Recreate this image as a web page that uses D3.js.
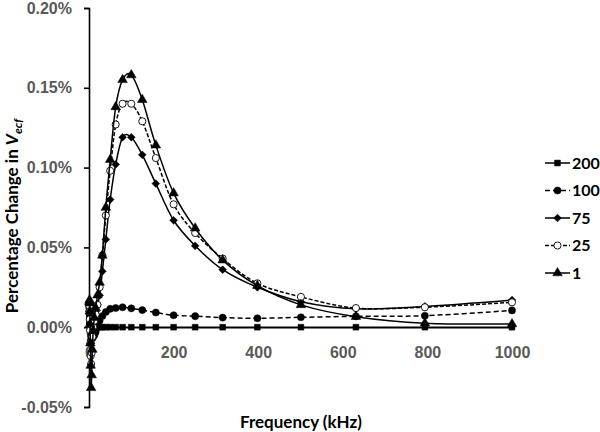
<html lang="en">
<head>
  <meta charset="UTF-8"/>
  <title>Percentage change in Vecf vs frequency</title>
  <script src="https://d3js.org/d3.v7.min.js"></script>
  <style>
body {
  margin: 0;
  background: #fff;
  font-family: 'Lato', sans-serif;
}

svg {
  display: block;
}

.tick text {
  font-size: 16px;
  font-weight: 700;
  fill: #595959;
}

.axis path,
.axis line {
  stroke: #000;
  stroke-width: 1.6;
}

text.title {
  font-size: 17px;
  font-weight: 700;
  fill: #000;
}

text.legend {
  font-size: 16px;
  font-weight: 700;
  fill: #000;
}
  </style>
</head>
<body>
  <svg width="600" height="432"></svg>
  <script>

// frequency in kHz
const freqs = [1, 1.26, 1.58, 2, 2.51, 3.16, 3.98, 5.01, 6.31, 7.94, 10, 12.6, 15.8, 20, 25.1, 31.6,
  39.8, 50.1, 63.1, 79.4, 100, 126, 158, 200, 251, 316, 398, 501, 631, 794, 1000];

// percentage change in Vecf (%)
const s200 = [0.006, 0.005, 0.004, 0.003, 0.002, 0.001, 0.000, -0.001, -0.001, 0.000, 0.000, 0.000, 0.000, 0.000, 0.000, 0.000,
  0.000, 0.000, 0.000, 0.000, 0.000, 0.000, 0.000, 0.000, 0.000, 0.000, 0.000, 0.000, 0.000, 0.000, 0.000];
const s100 = [0.010, 0.010, 0.008, 0.005, 0.002, -0.001, -0.004, -0.006, -0.007, -0.007, -0.006, -0.005, -0.003, 0.000, 0.004, 0.007,
  0.0095, 0.0115, 0.012, 0.0125, 0.0118, 0.0107, 0.0092, 0.0075, 0.0069, 0.006, 0.0056, 0.0062, 0.0068, 0.0072, 0.0105];
const s75 = [0.014, 0.015, 0.013, 0.009, 0.004, -0.002, -0.008, -0.010, -0.006, -0.002, 0.002, 0.006, 0.010, 0.014, 0.020, 0.035,
  0.055, 0.080, 0.102, 0.119, 0.119, 0.108, 0.090, 0.067, 0.051, 0.036, 0.025, 0.016, 0.0115, 0.013, 0.017];
const s25 = [0.012, 0.013, 0.010, 0.005, -0.002, -0.010, -0.018, -0.023, -0.016, -0.006, 0.000, 0.004, 0.008, 0.014, 0.025, 0.045,
  0.070, 0.098, 0.127, 0.140, 0.140, 0.129, 0.106, 0.077, 0.059, 0.043, 0.0275, 0.019, 0.012, 0.0125, 0.0156];
const s1 = [0.016, 0.017, 0.015, 0.010, 0.002, -0.010, -0.024, -0.038, -0.030, -0.014, -0.002, 0.006, 0.012, 0.020, 0.028, 0.045,
  0.075, 0.105, 0.138, 0.155, 0.158, 0.1425, 0.114, 0.084, 0.062, 0.042, 0.026, 0.014, 0.0066, 0.0025, 0.002];

const seriesNames = ['200', '100', '75', '25', '1'];
const xTicks = [0, 200, 400, 600, 800, 1000];
const yTicks = [-0.05, 0, 0.05, 0.10, 0.15, 0.20];

const series = [
  { name: '200', values: s200, symbol: 'square', dash: null, fill: '#000' },
  { name: '100', values: s100, symbol: 'circle', dash: '5,3', fill: '#000' },
  { name: '75', values: s75, symbol: 'diamond', dash: null, fill: '#000' },
  { name: '25', values: s25, symbol: 'circle', dash: '4,2', fill: '#fff' },
  { name: '1', values: s1, symbol: 'triangle', dash: null, fill: '#000' }
];

const svg = d3.select('svg');

const xScale = d3.scaleLinear().domain([0, 1000]).range([89, 512]);
const yScale = d3.scaleLinear().domain([-0.05, 0.20]).range([407, 8]);

// y axis
svg.append('g')
  .attr('class', 'axis')
  .attr('transform', `translate(${xScale(0)}, 0)`)
  .call(d3.axisLeft(yScale)
    .tickValues(yTicks)
    .tickSize(5)
    .tickPadding(12)
    .tickFormat((d) => `${d.toFixed(2)}%`));

// x axis along zero
svg.append('g')
  .attr('class', 'axis')
  .attr('transform', `translate(0, ${yScale(0)})`)
  .call(d3.axisBottom(xScale)
    .tickValues(xTicks)
    .tickSize(0)
    .tickPadding(19)
    .tickFormat(d3.format('d')));

svg.selectAll('.axis .domain').attr('fill', 'none');

// markers
const symbolPath = (kind) => {
  if (kind === 'square') return d3.symbol(d3.symbolSquare, 34)();
  if (kind === 'circle') return d3.symbol(d3.symbolCircle, 40)();
  if (kind === 'diamond') return d3.symbol(d3.symbolSquare, 30)();
  return d3.symbol(d3.symbolTriangle, 40)();
};

const line = d3.line()
  .x((d) => xScale(d[0]))
  .y((d) => yScale(d[1]))
  .curve(d3.curveCardinal.tension(0));

series.forEach((s) => {
  const pts = freqs.map((f, i) => [f, s.values[i]]);
  const g = svg.append('g');

  g.append('path')
    .attr('d', line(pts))
    .attr('fill', 'none')
    .attr('stroke', '#000')
    .attr('stroke-width', 1.5)
    .attr('stroke-dasharray', s.dash);

  g.selectAll('path.marker')
    .data(pts)
    .enter()
    .append('path')
    .attr('class', 'marker')
    .attr('d', symbolPath(s.symbol))
    .attr('transform', (d) => `translate(${xScale(d[0])}, ${yScale(d[1])})` + (s.symbol === 'diamond' ? ' rotate(45)' : ''))
    .attr('fill', s.fill)
    .attr('stroke', '#000')
    .attr('stroke-width', s.fill === '#fff' ? 0.9 : 0.5);
});

// legend
const legendY = d3.scalePoint().domain(seriesNames).range([163, 273]);

series.forEach((s) => {
  const y = legendY(s.name);
  const lg = svg.append('g');
  lg.append('line')
    .attr('x1', 545)
    .attr('x2', 570)
    .attr('y1', y)
    .attr('y2', y)
    .attr('stroke', '#000')
    .attr('stroke-width', 1.5)
    .attr('stroke-dasharray', s.dash);
  lg.append('path')
    .attr('d', symbolPath(s.symbol))
    .attr('transform', `translate(557.5, ${y})` + (s.symbol === 'diamond' ? ' rotate(45)' : ''))
    .attr('fill', s.fill)
    .attr('stroke', '#000')
    .attr('stroke-width', s.fill === '#fff' ? 0.9 : 0.5);
  lg.append('text')
    .attr('class', 'legend')
    .attr('x', 572)
    .attr('y', y)
    .attr('dy', '0.36em')
    .text(s.name);
});

// axis titles
svg.append('text')
  .attr('class', 'title')
  .attr('x', 301)
  .attr('y', 428)
  .attr('text-anchor', 'middle')
  .text('Frequency (kHz)');

const yTitle = svg.append('text')
  .attr('class', 'title')
  .attr('transform', 'translate(18, 216) rotate(-90)')
  .attr('text-anchor', 'middle');
yTitle.append('tspan').text('Percentage Change in ');
yTitle.append('tspan').attr('font-style', 'italic').text('V');
yTitle.append('tspan')
  .attr('font-style', 'italic')
  .attr('font-size', '12px')
  .attr('dy', '4')
  .text('ecf');

  </script>
</body>
</html>
